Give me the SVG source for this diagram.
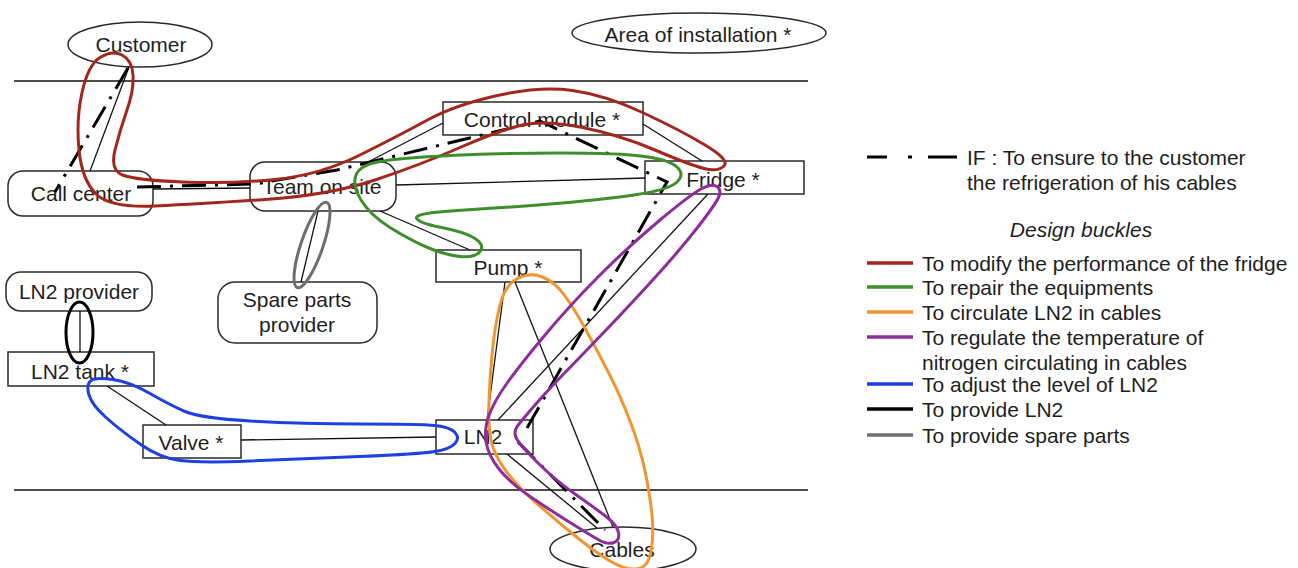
<svg xmlns="http://www.w3.org/2000/svg" width="1298" height="568" viewBox="0 0 1298 568">
<style>
text{font-family:"Liberation Sans",Arial,sans-serif;font-size:21px;fill:#1e1e1e}
.c{text-anchor:middle}
.box{fill:#fff;stroke:#2a2a2a;stroke-width:1.5}
.ln{stroke:#111;stroke-width:1.3;fill:none}
.if{stroke:#000;stroke-width:3;fill:none;stroke-dasharray:24 9 3 9}
.loop{fill:none;stroke-width:3;stroke-linejoin:round}
.red{stroke:#a3261c}.green{stroke:#3e8e2b}.orange{stroke:#f0952f}.purple{stroke:#8d2d9b}.blue{stroke:#1f40e0}.black{stroke:#000}.gray{stroke:#6e6e6e}
</style>
<rect width="1298" height="568" fill="#fff"/>
<g id="boundaries" stroke="#111" stroke-width="1.4">
<line x1="14" y1="81" x2="808" y2="81"/>
<line x1="14" y1="490" x2="808" y2="490"/>
</g>
<g id="nodes">
<g id="customer"><ellipse class="box" cx="140" cy="44.5" rx="72" ry="22.5"/><text class="c" x="141" y="52">Customer</text></g>
<g id="area"><ellipse class="box" cx="699" cy="33" rx="127" ry="20"/><text class="c" x="698" y="42">Area of installation *</text></g>
<g id="callcenter"><rect class="box" x="8" y="171" width="145" height="45" rx="15"/><text class="c" x="81" y="201">Call center</text></g>
<g id="team"><rect class="box" x="250" y="162" width="146" height="49" rx="15"/><text class="c" x="322" y="194">Team on site</text></g>
<g id="control"><rect class="box" x="443" y="102" width="200" height="33"/><text class="c" x="542" y="127">Control module *</text></g>
<g id="fridge"><rect class="box" x="645" y="161" width="159" height="33"/><text class="c" x="723" y="187">Fridge *</text></g>
<g id="pump"><rect class="box" x="436" y="250" width="145" height="32"/><text class="c" x="508" y="275">Pump *</text></g>
<g id="ln2provider"><rect class="box" x="6" y="272" width="146" height="39" rx="15"/><text class="c" x="79" y="299">LN2 provider</text></g>
<g id="ln2tank"><rect class="box" x="8" y="352" width="146" height="34"/><text class="c" x="80" y="379">LN2 tank *</text></g>
<g id="valve"><rect class="box" x="143" y="425" width="98" height="33"/><text class="c" x="191" y="450">Valve *</text></g>
<g id="spare"><rect class="box" x="218" y="282" width="159" height="61" rx="17"/><text class="c" x="297" y="307">Spare parts</text><text class="c" x="297" y="332">provider</text></g>
<g id="ln2"><rect class="box" x="436" y="420" width="97" height="34"/><text class="c" x="483" y="444">LN2</text></g>
<g id="cables"><ellipse class="box" cx="623" cy="549" rx="73" ry="22"/><text class="c" x="622" y="557">Cables</text></g>
</g>
<g id="connectors">
<line class="ln" x1="129" y1="67" x2="90" y2="171"/>
<line class="ln" x1="153" y1="189" x2="250" y2="188"/>
<line class="ln" x1="368" y1="162" x2="443" y2="123"/>
<line class="ln" x1="396" y1="185" x2="645" y2="178"/>
<line class="ln" x1="380" y1="211" x2="470" y2="250"/>
<line class="ln" x1="643" y1="124" x2="702" y2="161"/>
<line class="ln" x1="708" y1="194" x2="498" y2="420"/>
<line class="ln" x1="505" y1="282" x2="487" y2="420"/>
<line class="ln" x1="515" y1="282" x2="613" y2="527"/>
<line class="ln" x1="507" y1="454" x2="597" y2="528"/>
<line class="ln" x1="318" y1="211" x2="301" y2="282"/>
<line class="ln" x1="80" y1="311" x2="80" y2="352"/>
<line class="ln" x1="107" y1="386" x2="166" y2="425"/>
<line class="ln" x1="241" y1="440" x2="436" y2="437"/>
<path class="if" d="M128,68 L55,192"/>
<path class="if" d="M137,187 L255,184 L337,170 L540,121 L667,182 L527,428"/>
<path class="if" d="M518,442 L605,530"/>
</g>
<g id="buckles">
<path class="loop red" d="M122,55 Q132,60 133,75 Q134,90 127,110 Q120,130 115,150 Q110,170 122.5,175 Q135,180 182.5,182 Q230,184 275,179.5 Q320,175 360,155 Q400,135 427.5,120 Q455,105 497.5,95.5 Q540,86 572.5,90.5 Q605,95 642.5,112.5 Q680,130 705,145 Q730,160 724,166 Q718,172 704,168.5 Q690,165 655,150 Q620,135 582.5,127.5 Q545,120 522.5,125 Q500,130 460,147.5 Q420,165 375,180 Q330,195 265,199.5 Q200,204 155,206 Q110,208 96,194 Q82,180 79,150 Q76,120 82,92.5 Q88,65 100,57.5 Q112,50 122,55 Z"/>
<path class="loop green" d="M356,175 Q360,165 380,161.5 Q400,158 450,155.5 Q500,153 560,153 Q620,153 645,156.5 Q670,160 677.5,167.5 Q685,175 676.5,182.5 Q668,190 634,195 Q600,200 550,204 Q500,208 457.5,210.5 Q415,213 416.5,218 Q418,223 441.5,227.5 Q465,232 475,238.5 Q485,245 480,251.5 Q475,258 460,256.5 Q445,255 427.5,247.5 Q410,240 390,227.5 Q370,215 361,200 Q352,185 356,175 Z"/>
<path class="loop orange" d="M517.5,278.5 Q530,272 542.5,277 Q555,282 565,296 Q575,310 586,330 Q597,350 608.5,372.5 Q620,395 630,421 Q640,447 645,471 Q650,495 652,515 Q654,535 651,551.5 Q648,568 636.5,569 Q625,570 610,561 Q595,552 576.5,537 Q558,522 538,504.5 Q518,487 506,471 Q494,455 491,440 Q488,425 489,400 Q490,375 492.5,350 Q495,325 500,305 Q505,285 517.5,278.5 Z"/>
<path class="loop purple" d="M701,189 Q712,183 717,186.5 Q722,190 718.5,197.5 Q715,205 697.5,227.5 Q680,250 655,277.5 Q630,305 607.5,328.5 Q585,352 566.5,371 Q548,390 535,405 Q522,420 517.5,426 Q513,432 516.5,438.5 Q520,445 537.5,462.5 Q555,480 575,494 Q595,508 606,516.5 Q617,525 618.5,532.5 Q620,540 614,542.5 Q608,545 599,540 Q590,535 570,522.5 Q550,510 530,496.5 Q510,483 499,469 Q488,455 486,441.5 Q484,428 489.5,414 Q495,400 507.5,382.5 Q520,365 545,335 Q570,305 600,275 Q630,245 660,220 Q690,195 701,189 Z"/>
<path class="loop blue" d="M90.5,381 Q95,377 112.5,379.5 Q130,382 150,393.5 Q170,405 185,411.5 Q200,418 250,421 Q300,424 360,424 Q420,424 435,425.5 Q450,427 455,432.5 Q460,438 455,443.5 Q450,449 435,451.5 Q420,454 360,456.5 Q300,459 250,461 Q200,463 180,460.5 Q160,458 140,444 Q120,430 106,417.5 Q92,405 89,395 Q86,385 90.5,381 Z"/>
<ellipse class="loop black" cx="79.5" cy="332.5" rx="13.5" ry="30.5"/>
<ellipse class="loop gray" cx="0" cy="0" rx="11" ry="45" transform="translate(312,245) rotate(19)"/>
</g>
<g id="legend">
<path d="M867,157 H887 M908,157 H912 M928,157 H957" stroke="#000" stroke-width="3"/>
<text x="967" y="165">IF : To ensure to the customer</text>
<text x="967" y="190">the refrigeration of his cables</text>
<text class="c" x="1081" y="237" font-style="italic">Design buckles</text>
<g stroke-width="3.5">
<line class="red" x1="867" y1="263" x2="913" y2="263"/>
<line class="green" x1="867" y1="287" x2="913" y2="287"/>
<line class="orange" x1="867" y1="312" x2="913" y2="312"/>
<line class="purple" x1="867" y1="337" x2="913" y2="337"/>
<line class="blue" x1="867" y1="384" x2="913" y2="384"/>
<line class="black" x1="867" y1="409" x2="913" y2="409"/>
<line class="gray" x1="867" y1="435" x2="913" y2="435"/>
</g>
<text x="922" y="271">To modify the performance of the fridge</text>
<text x="922" y="295">To repair the equipments</text>
<text x="922" y="320">To circulate LN2 in cables</text>
<text x="922" y="345">To regulate the temperature of</text>
<text x="922" y="370">nitrogen circulating in cables</text>
<text x="922" y="392">To adjust the level of LN2</text>
<text x="922" y="417">To provide LN2</text>
<text x="922" y="443">To provide spare parts</text>
</g>
</svg>
